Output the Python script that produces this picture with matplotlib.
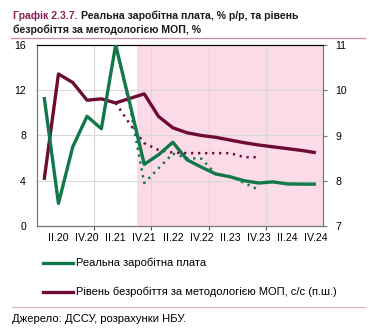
import matplotlib
matplotlib.use("Agg")
import matplotlib.pyplot as plt
from matplotlib.lines import Line2D
import numpy as np

plt.rcParams['font.family'] = ['Liberation Sans', 'DejaVu Sans']

# ---- data ----
quarters = ['I.20', 'II.20', 'III.20', 'IV.20', 'I.21', 'II.21', 'III.21', 'IV.21',
            'I.22', 'II.22', 'III.22', 'IV.22', 'I.23', 'II.23', 'III.23', 'IV.23',
            'I.24', 'II.24', 'III.24', 'IV.24']
tick_labels = ['II.20', 'IV.20', 'II.21', 'IV.21', 'II.22', 'IV.22', 'II.23', 'IV.23', 'II.24', 'IV.24']
real_wage = [11.4, 2.0, 7.0, 9.7, 8.6, 16.0, 10.8, 5.45, 6.3, 7.4,
             5.85, 5.2, 4.6, 4.35, 4.0, 3.8, 3.9, 3.72, 3.7, 3.7]
unemployment = [8.02, 10.36, 10.17, 9.78, 9.81, 9.72, 9.82, 9.92, 9.42, 9.17,
                9.06, 9.0, 8.96, 8.9, 8.84, 8.79, 8.75, 8.71, 8.67, 8.62]
prev_quarters = quarters[5:16]
real_wage_prev = [16.0, 10.5, 3.8, 5.1, 6.4, 6.0, 5.95, 4.6, 4.4, 3.8, 3.2]
unemployment_prev = [9.72, 9.25, 8.83, 8.68, 8.62, 8.61, 8.61, 8.61, 8.61, 8.52, 8.52]
forecast_start = 'IV.21'

GREEN = '#12784a'
MAROON = '#6e0b34'
PINK = '#fbdbe7'

W, H = 369, 328
fig = plt.figure(figsize=(W / 100, H / 100), dpi=100)
ax = fig.add_axes([37 / W, 1 - 226 / H, (323 - 37) / W, (226 - 45) / H])
ax2 = ax.twinx()

x = np.arange(len(quarters))
px = np.array([quarters.index(q) for q in prev_quarters])
fs = quarters.index(forecast_start)

ax.axvspan(fs - 0.5, len(quarters) - 0.5, color=PINK, lw=0, zorder=0)

ax.set_xlim(-0.5, len(quarters) - 0.5)
ax.set_ylim(0, 16)
ax.set_yticks([0, 4, 8, 12, 16])
ax2.set_ylim(7, 11)
ax2.set_yticks([7, 8, 9, 10, 11])

ax.set_xticks(np.arange(3.5, len(quarters) - 1, 4))
ax.set_xticklabels([])
ax.set_xticks([quarters.index(t) for t in tick_labels], minor=True)
ax.set_xticklabels(tick_labels, minor=True)
ax.tick_params(axis='x', which='major', length=3, direction='out', color='#555555')
ax.tick_params(axis='x', which='minor', length=0, labelsize=7.6, pad=5)
ax.tick_params(axis='y', length=0, labelsize=7.6, pad=8)
ax2.tick_params(axis='y', length=3, labelsize=7.6, pad=6, color='#777777')

ax.grid(True, which='major', color='#d8d8d8', lw=0.8, zorder=1)
ax.set_axisbelow(False)
for s in ['left', 'bottom', 'right']:
    ax.spines[s].set_color('#555555')
    ax2.spines[s].set_color('#777777')
ax.spines['top'].set_color('black')
ax2.spines['top'].set_color('black')

ax.patch.set_visible(True)
ax2.patch.set_visible(False)

# right-axis series
ax2.plot(px, unemployment_prev, color=MAROON, lw=1.8, ls=(0, (0.9, 1.9)), zorder=2)
ax2.plot(x, unemployment, color=MAROON, lw=2.4, solid_capstyle='butt', zorder=3)
# left-axis series, drawn on top via the left-axis scale mapped into ax2
def to_right(v):
    v = np.asarray(v, dtype=float)
    return (v - 0) / (16 - 0) * (11 - 7) + 7

ax2.plot(px, to_right(real_wage_prev), color=GREEN, lw=1.8, ls=(0, (0.9, 1.9)), zorder=4)
ax2.plot(x, to_right(real_wage), color=GREEN, lw=2.4, solid_capstyle='butt', zorder=5)

# title
r = fig.canvas.get_renderer()
t1 = fig.text(13 / W, 1 - 16 / H, 'Графік 2.3.7.', color='#8b2252', fontsize=7.6,
              fontweight='bold', va='center', ha='left')
bb = t1.get_window_extent(r)
fig.text((bb.x1 + 3) / W, 1 - 16 / H, 'Реальна заробітна плата, % р/р, та рівень',
         color='#1a1a1a', fontsize=7.6, fontweight='bold', va='center', ha='left')
fig.text(13 / W, 1 - 29.5 / H, 'безробіття за методологією МОП, %',
         color='#1a1a1a', fontsize=7.6, fontweight='bold', va='center', ha='left')
fig.add_artist(Line2D([11 / W, 365 / W], [1 - 38 / H, 1 - 38 / H], color='#d98a98', lw=0.9))

# legend
fig.add_artist(Line2D([43 / W, 73 / W], [1 - 263 / H, 1 - 263 / H], color=GREEN, lw=2.4))
fig.text(76 / W, 1 - 263 / H, 'Реальна заробітна плата', fontsize=8.0, va='center', ha='left')
fig.add_artist(Line2D([43 / W, 73 / W], [1 - 292 / H, 1 - 292 / H], color=MAROON, lw=2.4))
fig.text(76 / W, 1 - 292 / H, 'Рівень безробіття за методологією МОП, с/с (п.ш.)',
         fontsize=8.0, va='center', ha='left')

# footer
fig.add_artist(Line2D([12 / W, 365 / W], [1 - 306.5 / H, 1 - 306.5 / H], color='#e8b4bc', lw=0.9))
fig.text(12 / W, 1 - 318.5 / H, 'Джерело: ДССУ, розрахунки НБУ.', fontsize=8.1, va='center', ha='left')

fig.savefig('out.png', dpi=100)
